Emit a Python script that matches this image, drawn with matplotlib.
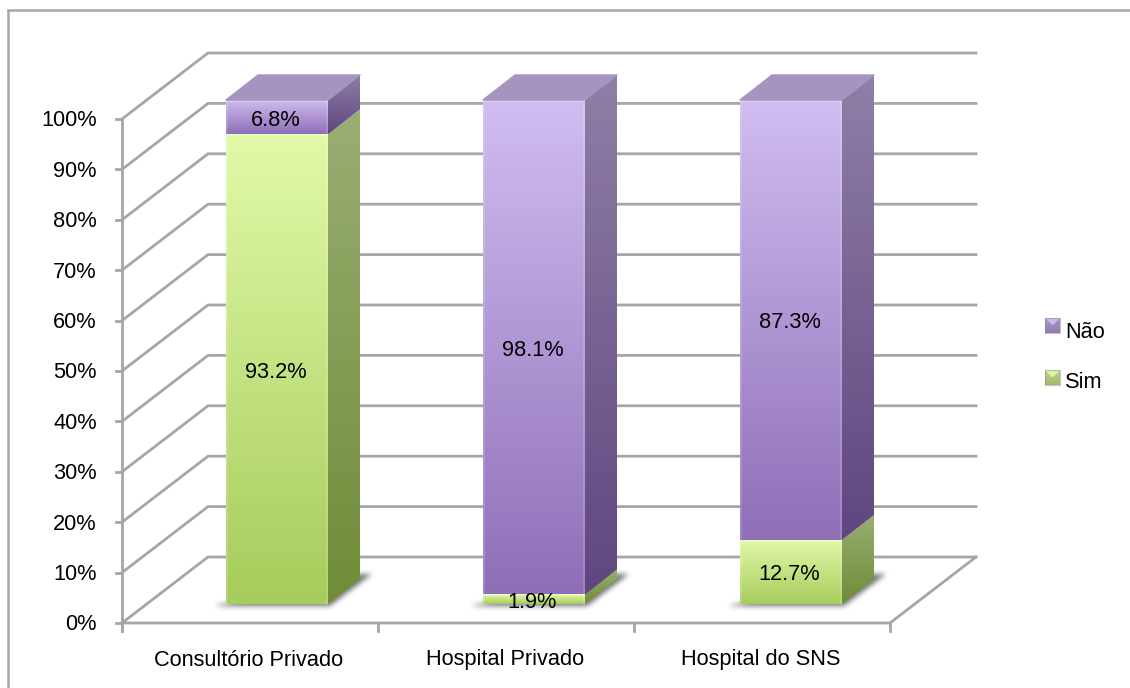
import numpy as np
import matplotlib
matplotlib.use("Agg")
import matplotlib.pyplot as plt
from matplotlib.colors import LinearSegmentedColormap
from matplotlib.patches import Polygon, Rectangle
from matplotlib.path import Path

plt.rcParams['font.family'] = ['Liberation Sans', 'DejaVu Sans']

# data
categories = ["Consultório Privado", "Hospital Privado", "Hospital do SNS"]
sim = [93.2, 1.9, 12.7]
nao = [6.8, 98.1, 87.3]
y_ticks = list(range(0, 101, 10))

# layout of the oblique projection, in figure pixels
W, H = 1130, 688
x_left, x_right = 122, 890
y_zero, y_full = 623, 119
wall_dx, wall_dy = 86, -66
bar_w = 102
bar_step = 257
bar_start = 226
bar_dx, bar_dy = 32, -25
bar_lift = 19  # bar front sits this far above the axis plane
slot_w = (x_right - x_left) / len(categories)
px_per_pct = (y_zero - y_full) / 100
FS = 15.7

GRID = "#a6a6a6"
green_front = LinearSegmentedColormap.from_list("gf", ["#e2f9a8", "#a6cc5c"])
green_side = LinearSegmentedColormap.from_list("gs", ["#9aae72", "#6f8c38"])
purple_front = LinearSegmentedColormap.from_list("pf", ["#d0bdf0", "#8f6fb8"])
purple_side = LinearSegmentedColormap.from_list("ps", ["#8f7fa6", "#5f4680"])
green_key = LinearSegmentedColormap.from_list("gk", ["#c0d490", "#a0b870"])
purple_key = LinearSegmentedColormap.from_list("pk", ["#a898c4", "#8f7cb0"])


def val_y(v):
    return y_zero - v * px_per_pct


def fill_grad(ax, pts, cmap, z):
    # vertical gradient clipped to a polygon
    pts = np.array(pts)
    x0, x1 = pts[:, 0].min(), pts[:, 0].max()
    y0, y1 = pts[:, 1].min(), pts[:, 1].max()
    grad = np.linspace(0, 1, 128).reshape(-1, 1)
    im = ax.imshow(grad, cmap=cmap, extent=(x0, x1, y1, y0), aspect="auto",
                   zorder=z, interpolation="bilinear")
    clip = Polygon(pts, closed=True, transform=ax.transData, fc="none", ec="none")
    ax.add_patch(clip)
    im.set_clip_path(clip)


def blur(a, n=3, passes=3):
    # repeated box filter, close enough to a gaussian
    k = np.ones(2 * n + 1) / (2 * n + 1)
    for _ in range(passes):
        a = np.apply_along_axis(lambda r: np.convolve(r, k, mode="same"), 0, a)
        a = np.apply_along_axis(lambda r: np.convolve(r, k, mode="same"), 1, a)
    return a


def draw_shadow(ax, x0, x1, y):
    # soft ground shadow under one bar
    pts = [(x0 - 12, y + 2), (x1 + 2, y + 2),
           (x1 + bar_dx + 12, y + bar_dy - 5), (x1 + bar_dx - 10, y + bar_dy - 5)]
    px0, py0 = int(x0 - 30), int(y + bar_dy - 25)
    nx, ny = int(x1 + bar_dx + 35 - px0), int(y + 20 - py0)
    gx, gy = np.meshgrid(np.arange(nx) + px0 + 0.5, np.arange(ny) + py0 + 0.5)
    mask = Path(pts).contains_points(np.c_[gx.ravel(), gy.ravel()]).reshape(ny, nx).astype(float)
    mask = blur(mask, n=2, passes=3)
    rgba = np.zeros((ny, nx, 4))
    rgba[..., :3] = 0.33
    rgba[..., 3] = mask * 0.8
    ax.imshow(rgba, extent=(px0, px0 + nx, py0 + ny, py0), aspect="auto", zorder=3,
              interpolation="bilinear")


def draw_segment(ax, x0, v0, v1, front, side, z):
    x1 = x0 + bar_w
    yb = val_y(v0) - bar_lift
    yt = val_y(v1) - bar_lift
    fill_grad(ax, [(x0, yb), (x1, yb), (x1, yt), (x0, yt)], front, z)
    fill_grad(ax, [(x1, yb), (x1 + bar_dx, yb + bar_dy), (x1 + bar_dx, yt + bar_dy), (x1, yt)], side, z)
    # bevel highlight along the front edges
    ax.plot([x0 + 1, x1 - 1], [yt + 1, yt + 1], color="white", alpha=0.25, lw=1.5, zorder=z + 0.1)
    ax.plot([x0 + 1, x0 + 1], [yt, yb], color="white", alpha=0.15, lw=1.5, zorder=z + 0.1)
    ax.plot([x1 - 1, x1 - 1], [yt, yb], color="white", alpha=0.15, lw=1.5, zorder=z + 0.1)


def legend_key(ax, x, y, size, cmap, base):
    # small bevelled square
    fill_grad(ax, [(x, y), (x + size, y), (x + size, y + size), (x, y + size)], cmap, 4)
    c = x + size / 2, y + size / 2
    ax.add_patch(Polygon([(x, y), (x + size, y), c], closed=True, fc=base, ec="none", zorder=4.5))
    ax.add_patch(Rectangle((x, y), size, size, fc="none", ec="#8a8a8a", lw=0.8, alpha=0.5, zorder=5))


fig = plt.figure(figsize=(W / 100, H / 100), dpi=100)
ax = fig.add_axes([0, 0, 1, 1])
ax.set_xlim(0, W)
ax.set_ylim(H, 0)
ax.axis("off")

# outer frame
ax.add_patch(Rectangle((8, 10), W + 20, H, fc="white", ec=GRID, lw=1.8, zorder=0))

# gridlines along the side wall and back wall
for t in y_ticks:
    y = val_y(t)
    ax.plot([x_left, x_left + wall_dx, x_right + wall_dx],
            [y, y + wall_dy, y + wall_dy], color=GRID, lw=2, zorder=1, solid_joinstyle="miter")
    ax.plot([x_left - 6, x_left], [y, y], color=GRID, lw=2, zorder=1)
    ax.text(x_left - 25, y + 2, f"{t}%", ha="right", va="center", fontsize=FS, color="black", zorder=8)

# axis edges
ax.plot([x_left, x_left], [val_y(0) + 8, val_y(100)], color=GRID, lw=2, zorder=1)
ax.plot([x_left, x_right, x_right + wall_dx],
        [y_zero, y_zero, y_zero + wall_dy], color=GRID, lw=2, zorder=1)
for i in range(len(categories) + 1):
    x = x_left + i * slot_w
    ax.plot([x, x], [y_zero, y_zero + 8], color=GRID, lw=2, zorder=1)

# stacked bars
for i, cat in enumerate(categories):
    x0 = bar_start + i * bar_step
    x1 = x0 + bar_w
    total = sim[i] + nao[i]
    draw_shadow(ax, x0, x1, val_y(0) - bar_lift)
    draw_segment(ax, x0, 0, sim[i], green_front, green_side, 4)
    draw_segment(ax, x0, sim[i], total, purple_front, purple_side, 5)

    # top face
    yt = val_y(total) - bar_lift
    ax.add_patch(Polygon([(x0, yt), (x1, yt), (x1 + bar_dx, yt + bar_dy), (x0 + bar_dx, yt + bar_dy)],
                         closed=True, fc="#a594bf", ec="#a594bf", lw=1, joinstyle="round", zorder=6))

    xc = x0 + bar_w / 2 - 1.5
    y_sim = (val_y(0) + val_y(sim[i])) / 2 - bar_lift + 3
    y_nao = (val_y(sim[i]) + val_y(total)) / 2 - bar_lift + 3
    ax.text(xc, y_sim, f"{sim[i]:.1f}%", ha="center", va="center", fontsize=FS, zorder=8)
    ax.text(xc, y_nao, f"{nao[i]:.1f}%", ha="center", va="center", fontsize=FS, zorder=8)
    ax.text(x_left + (i + 0.5) * slot_w - 1, 660, cat, ha="center", va="center", fontsize=FS, zorder=8)

# legend
legend_key(ax, 1045, 318, 15, purple_key, "#cbb8ea")
ax.text(1065, 332, "Não", ha="left", va="center", fontsize=FS, zorder=8)
legend_key(ax, 1045, 370, 15, green_key, "#def5a4")
ax.text(1065, 383, "Sim", ha="left", va="center", fontsize=FS, zorder=8)

ax.set_xlim(0, W)
ax.set_ylim(H, 0)
fig.savefig("out.png", dpi=100)
